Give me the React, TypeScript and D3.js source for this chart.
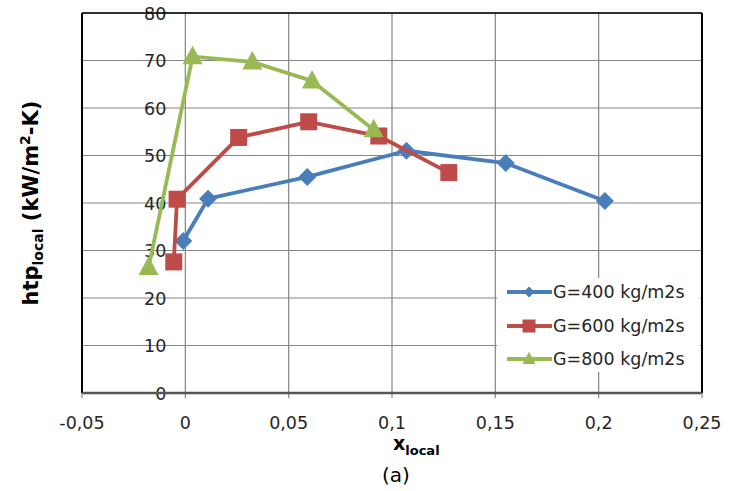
import React from "react";
import * as d3 from "d3";

// values
const seriesNames = ["G=400 kg/m2s", "G=600 kg/m2s", "G=800 kg/m2s"];
const colors = ["#4a7ebb", "#be4b48", "#98b954"];

const x400 = [-0.001, 0.011, 0.059, 0.107, 0.155, 0.203];
const y400 = [32.0, 40.9, 45.5, 51.0, 48.4, 40.4];
const x600 = [-0.0056, -0.004, 0.0258, 0.0597, 0.0936, 0.1275];
const y600 = [27.6, 40.8, 53.8, 57.1, 54.1, 46.4];
const x800 = [-0.0178, 0.0035, 0.0324, 0.0613, 0.0911];
const y800 = [26.4, 70.8, 69.7, 65.7, 55.4];

const xTicks = [-0.05, 0, 0.05, 0.1, 0.15, 0.2, 0.25];
const xTickLabels = ["-0,05", "0", "0,05", "0,1", "0,15", "0,2", "0,25"];
const yTicks = [0, 10, 20, 30, 40, 50, 60, 70, 80];

const W = 737;
const H = 491;
const left = 82;
const right = 702;
const top = 13;
const bottom = 393;

const FONT = "'DejaVu Sans', sans-serif";

// marker paths, one per series
const markerPath = (i: number, s: number) => {
  if (i === 0) return `M0,${-s}L${s},0L0,${s}L${-s},0Z`;
  if (i === 1) return `M${-s},${-s}H${s}V${s}H${-s}Z`;
  return `M0,${-s * 1.1}L${s},${s * 0.75}L${-s},${s * 0.75}Z`;
};

export default function App() {
  const x = d3.scaleLinear().domain([-0.05, 0.25]).range([left, right]);
  const y = d3.scaleLinear().domain([0, 80]).range([bottom, top]);

  const series = [
    x400.map((v, i) => [v, y400[i]]),
    x600.map((v, i) => [v, y600[i]]),
    x800.map((v, i) => [v, y800[i]]),
  ];

  const line = d3
    .line<number[]>()
    .x((d) => x(d[0]))
    .y((d) => y(d[1]));

  const legX = 497;
  const legY = 278;
  const legRowY = [292, 326, 359];

  return (
    <svg
      width={W}
      height={H}
      style={{ position: "absolute", left: 0, top: 0, background: "#fff" }}
    >
      {/* gridlines */}
      {yTicks.map((t) => (
        <line key={"gy" + t} x1={left} x2={right} y1={y(t)} y2={y(t)} stroke="#858585" strokeWidth={1.2} />
      ))}
      {xTicks.map((t) => (
        <line key={"gx" + t} x1={x(t)} x2={x(t)} y1={top} y2={bottom + 5} stroke="#858585" strokeWidth={1.2} />
      ))}

      {/* y tick labels sit next to the axis at x = 0 */}
      {yTicks.map((t) => (
        <text
          key={"ly" + t}
          x={x(0) - 19}
          y={y(t) + 6.5}
          textAnchor="end"
          fontFamily={FONT}
          fontSize={17.5}
          fill="#262626"
        >
          {t}
        </text>
      ))}

      {/* frame */}
      <line x1={left} x2={right} y1={top} y2={top} stroke="#000" strokeWidth={1.5} />
      <line x1={right} x2={right} y1={top} y2={bottom} stroke="#000" strokeWidth={2} />
      <line x1={left} x2={left} y1={top} y2={bottom} stroke="#000" strokeWidth={2} />
      <line x1={left} x2={right} y1={bottom} y2={bottom} stroke="#555" strokeWidth={2.5} />

      {/* x tick labels */}
      {xTicks.map((t, i) => (
        <text
          key={"lx" + t}
          x={x(t)}
          y={429}
          textAnchor="middle"
          fontFamily={FONT}
          fontSize={17.5}
          fill="#262626"
        >
          {xTickLabels[i]}
        </text>
      ))}

      {/* series */}
      {series.map((pts, i) => (
        <g key={"s" + i}>
          <path d={line(pts) || ""} fill="none" stroke={colors[i]} strokeWidth={3.8} strokeLinejoin="round" />
          {pts.map((p, j) => (
            <path
              key={j}
              d={markerPath(i, i === 0 ? 9 : i === 1 ? 8.5 : 10)}
              transform={`translate(${x(p[0])},${y(p[1])})`}
              fill={colors[i]}
            />
          ))}
        </g>
      ))}

      {/* legend */}
      <rect x={legX} y={legY} width={203} height={94} fill="#fff" />
      {seriesNames.map((name, i) => (
        <g key={"leg" + i}>
          <line x1={507} x2={552} y1={legRowY[i]} y2={legRowY[i]} stroke={colors[i]} strokeWidth={3.8} />
          <path
            d={markerPath(i, i === 0 ? 5.5 : 6.5)}
            transform={`translate(529,${legRowY[i]})`}
            fill={colors[i]}
          />
          <text x={553} y={legRowY[i] + 6} fontFamily={FONT} fontSize={17.5} fill="#262626">
            {name}
          </text>
        </g>
      ))}

      {/* axis titles */}
      <text x={393} y={450} fontFamily={FONT} fontWeight="bold" fontSize={19} fill="#000">
        x
        <tspan fontSize={13} dy={5}>
          local
        </tspan>
      </text>
      <text x={396} y={482} textAnchor="middle" fontFamily={FONT} fontSize={20} fill="#000">
        (a)
      </text>
      <text
        transform={`translate(38,${(top + bottom) / 2}) rotate(-90)`}
        textAnchor="middle"
        fontFamily={FONT}
        fontWeight="bold"
        fontSize={21}
        fill="#000"
      >
        htp
        <tspan fontSize={14} dy={5}>
          local
        </tspan>
        <tspan dy={-5}> (kW/m</tspan>
        <tspan fontSize={14} dy={-8}>
          2
        </tspan>
        <tspan dy={8}>-K)</tspan>
      </text>
    </svg>
  );
}
